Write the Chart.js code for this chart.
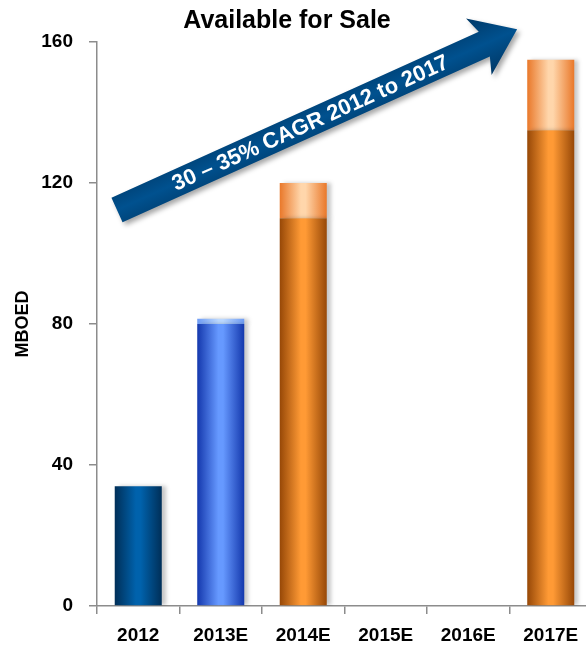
<!DOCTYPE html>
<html lang="en">
<head>
    <meta charset="UTF-8">
    <title>Available for Sale</title>
    <script src="https://cdn.jsdelivr.net/npm/chart.js"></script>
    <style>
        body { margin: 0; overflow: hidden; background: #fff; }
        #wrap { width: 600px; height: 650px; }
    </style>
</head>
<body>
    <div id="wrap"><canvas id="saleChart" width="600" height="650"></canvas></div>

    <script>
        // data (MBOED)
        const years = ['2012', '2013E', '2014E', '2015E', '2016E', '2017E'];
        const baseCase = [34, 80, 110, null, null, 135];
        const upside = [0, 1.5, 10, null, null, 20];
        const yTicks = [0, 40, 80, 120, 160];

        // colour family per bar (2012 actual, 2013 estimate, later forecasts)
        const barKind = ['navy', 'blue', 'orange', 'orange', 'orange', 'orange'];
        const palette = {
            navy:   { base: ['#002f58', '#0062ac'], cap: ['#4a7fb5', '#a9c8e8'] },
            blue:   { base: ['#1438ad', '#6699ff'], cap: ['#6e9cf5', '#bcd9ff'] },
            orange: { base: ['#974807', '#ff9a35'], cap: ['#e9782a', '#ffd6ab'] }
        };
        const barPct = 0.57;

        // scriptable so that every bar gets its own options object
        function solidFill(part) {
            return ctx => (palette[barKind[ctx.dataIndex]] || palette.orange)[part][1];
        }

        // the bars get a horizontal "cylinder" gradient once their pixels are known
        const barGradient = {
            id: 'barGradient',
            beforeDatasetsDraw(chart) {
                const ctx = chart.ctx;
                ['base', 'cap'].forEach((part, di) => {
                    chart.getDatasetMeta(di).data.forEach((bar, i) => {
                        if (!isFinite(bar.x) || !isFinite(bar.width)) return;
                        const stops = (palette[barKind[i]] || palette.orange)[part];
                        const g = ctx.createLinearGradient(bar.x - bar.width / 2, 0, bar.x + bar.width / 2, 0);
                        g.addColorStop(0, stops[0]);
                        g.addColorStop(0.45, stops[1]);
                        g.addColorStop(0.55, stops[1]);
                        g.addColorStop(1, stops[0]);
                        bar.options = Object.assign({}, bar.options, { backgroundColor: g });
                    });
                });
                // soft shadow to the right of the bars
                ctx.save();
                ctx.shadowColor = 'rgba(0,0,0,0.22)';
                ctx.shadowOffsetX = 4;
                ctx.shadowOffsetY = 0;
                ctx.shadowBlur = 4;
            },
            afterDatasetsDraw(chart) {
                chart.ctx.restore();
            }
        };

        // chart title + the CAGR arrow
        const decorations = {
            id: 'decorations',
            afterDraw(chart) {
                const ctx = chart.ctx;
                ctx.save();
                ctx.fillStyle = '#000';
                ctx.font = 'bold 25px "Liberation Sans", Arial, sans-serif';
                ctx.textAlign = 'center';
                ctx.textBaseline = 'alphabetic';
                ctx.fillText('Available for Sale', 287, 28);

                // arrow
                const sx = 117, sy = 210;
                const ang = -24.3 * Math.PI / 180;
                const shaft = 403, headLen = 36, hw = 13.5, headHw = 31;
                ctx.translate(sx, sy);
                ctx.rotate(ang);
                ctx.shadowColor = 'rgba(0,0,0,0.35)';
                ctx.shadowOffsetX = 3;
                ctx.shadowOffsetY = 3;
                ctx.shadowBlur = 5;
                const g = ctx.createLinearGradient(0, -headHw, 0, headHw);
                g.addColorStop(0, '#003866');
                g.addColorStop(0.5, '#00518f');
                g.addColorStop(1, '#003866');
                ctx.fillStyle = g;
                ctx.beginPath();
                ctx.moveTo(0, -hw);
                ctx.lineTo(shaft, -hw);
                ctx.lineTo(shaft - 6, -headHw);
                ctx.lineTo(shaft + headLen, 0);
                ctx.lineTo(shaft - 6, headHw);
                ctx.lineTo(shaft, hw);
                ctx.lineTo(0, hw);
                ctx.closePath();
                ctx.fill();

                ctx.shadowColor = 'transparent';
                ctx.fillStyle = '#fff';
                ctx.font = 'bold 22px "Liberation Sans", Arial, sans-serif';
                ctx.textAlign = 'center';
                ctx.textBaseline = 'middle';
                ctx.fillText('30 \u2013 35% CAGR 2012 to 2017', 212, 1);
                ctx.restore();
            }
        };

        const tickFont = { family: '"Liberation Sans", Arial, sans-serif', size: 19, weight: 'bold' };

        new Chart(document.getElementById('saleChart'), {
            type: 'bar',
            data: {
                labels: years,
                datasets: [{
                    label: 'Base',
                    data: baseCase,
                    backgroundColor: solidFill('base'),
                    borderWidth: 0,
                    barPercentage: barPct,
                    categoryPercentage: 1
                }, {
                    label: 'Upside',
                    data: upside,
                    backgroundColor: solidFill('cap'),
                    borderWidth: 0,
                    barPercentage: barPct,
                    categoryPercentage: 1
                }]
            },
            options: {
                responsive: false,
                animation: false,
                layout: { padding: { top: 42, right: 8, left: 0, bottom: 0 } },
                plugins: {
                    legend: { display: false },
                    tooltip: { enabled: false }
                },
                scales: {
                    x: {
                        stacked: true,
                        border: { color: '#8c8c8c', width: 1.5 },
                        grid: { drawOnChartArea: false, tickLength: 8, color: '#8c8c8c', lineWidth: 1.5 },
                        ticks: { color: '#000', font: tickFont, padding: 10 },
                        afterFit(scale) { scale.height = 44; }
                    },
                    y: {
                        stacked: true,
                        min: yTicks[0],
                        max: yTicks[yTicks.length - 1],
                        afterBuildTicks(scale) { scale.ticks = yTicks.map(v => ({ value: v })); },
                        border: { color: '#8c8c8c', width: 1.5 },
                        grid: { drawOnChartArea: false, tickLength: 8, color: '#8c8c8c', lineWidth: 1.5 },
                        ticks: { color: '#000', font: tickFont, padding: 16 },
                        title: {
                            display: true,
                            text: 'MBOED',
                            color: '#000',
                            font: { family: '"Liberation Sans", Arial, sans-serif', size: 18, weight: 'bold' },
                            padding: { top: 12, bottom: 0 }
                        },
                        afterFit(scale) { scale.width = 97; }
                    }
                }
            },
            plugins: [barGradient, decorations]
        });
    </script>
</body>
</html>
